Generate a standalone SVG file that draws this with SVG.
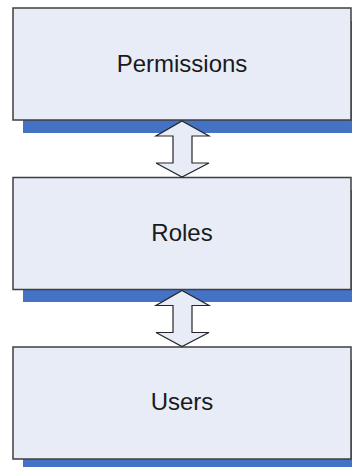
<svg xmlns="http://www.w3.org/2000/svg" width="352" height="467" viewBox="0 0 352 467">
<defs>
<style>
.shadow{fill:#4472C4;}
.box{fill:#E7ECF7;stroke:#3F3F3F;stroke-width:1.5;}
.lbl{font-family:"Liberation Sans",Arial,sans-serif;font-size:24px;fill:#1A1A1A;text-anchor:middle;}
.arr{fill:#E7ECF7;stroke:#262626;stroke-width:1.2;stroke-linejoin:miter;}
</style>
<polygon id="dblarrow" points="182,0 209,15 192,15 192,42 209,42 182,56 156,42 173,42 173,15 156,15"/>
</defs>
<rect width="352" height="467" fill="#FFFFFF"/>
<g id="node-permissions">
<rect class="shadow" x="23" y="21" width="340" height="112"/>
<rect class="box" x="13" y="8" width="338" height="112"/>
<text class="lbl" x="182" y="72">Permissions</text>
</g>
<g id="node-roles">
<rect class="shadow" x="23" y="190" width="340" height="112"/>
<rect class="box" x="13" y="177.5" width="338" height="112"/>
<text class="lbl" x="182" y="241">Roles</text>
</g>
<g id="node-users">
<rect class="shadow" x="23" y="360" width="340" height="112"/>
<rect class="box" x="13" y="347" width="338" height="112"/>
<text class="lbl" x="182" y="410">Users</text>
</g>
<g id="connectors">
<use href="#dblarrow" class="arr" transform="translate(0,121)"/>
<use href="#dblarrow" class="arr" transform="translate(0,290.5)"/>
</g>
</svg>
